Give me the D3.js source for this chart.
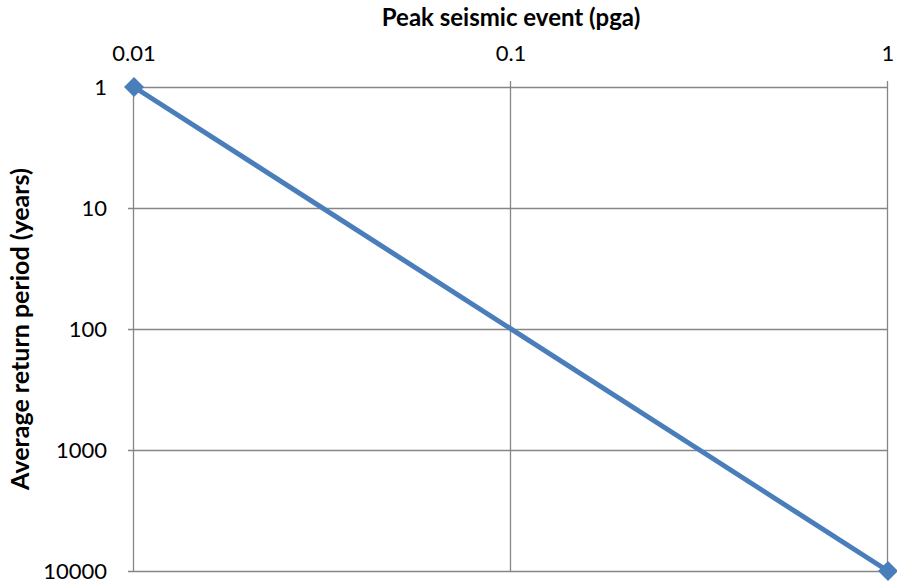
<!DOCTYPE html>
<html>
<head>
<meta charset="utf-8">
<script src="https://cdn.jsdelivr.net/npm/d3@7"></script>
<style>
  html, body { margin: 0; padding: 0; background: #fff; }
  svg { display: block; }
  text { font-family: Lato, "Open Sans", sans-serif; fill: #000; }
</style>
</head>
<body>
<svg id="chart" width="897" height="587"></svg>
<script>
// Peak ground acceleration vs. average return period
const pga = [0.01, 1];
const returnPeriod = [1, 10000];
const xTicks = [0.01, 0.1, 1];
const yTicks = [1, 10, 100, 1000, 10000];
const xTickLabels = ["0.01", "0.1", "1"];
const yTickLabels = ["1", "10", "100", "1000", "10000"];

const W = 897, H = 587;
const margin = { top: 87, right: 9, bottom: 16, left: 134 };
const svg = d3.select("#chart");

const x = d3.scaleLog().domain([0.01, 1]).range([margin.left, W - margin.right]);
const y = d3.scaleLog().domain([1, 10000]).range([margin.top, H - margin.bottom]);

const gridColor = "#868686";

// Horizontal gridlines (with short ticks poking out on the left)
svg.append("g").selectAll("line").data(yTicks).join("line")
  .attr("x1", margin.left - 6).attr("x2", W - margin.right)
  .attr("y1", d => Math.round(y(d)) + 0.5).attr("y2", d => Math.round(y(d)) + 0.5)
  .attr("stroke", gridColor).attr("stroke-width", 1.3);

// Vertical gridlines (with short ticks poking out on top)
svg.append("g").selectAll("line").data(xTicks).join("line")
  .attr("x1", d => Math.round(x(d)) - 0.5).attr("x2", d => Math.round(x(d)) - 0.5)
  .attr("y1", margin.top - 6).attr("y2", H - margin.bottom)
  .attr("stroke", gridColor).attr("stroke-width", 1.3);

// Top axis labels
svg.append("g").selectAll("text").data(xTicks).join("text")
  .attr("x", d => x(d)).attr("y", 61)
  .attr("text-anchor", "middle")
  .style("font-size", "22px")
  .text((d, i) => xTickLabels[i]);

// Left axis labels
svg.append("g").selectAll("text").data(yTicks).join("text")
  .attr("x", 107).attr("y", d => y(d))
  .attr("dy", "0.36em")
  .attr("text-anchor", "end")
  .style("font-size", "22px")
  .text((d, i) => yTickLabels[i]);

// Axis titles
svg.append("text")
  .attr("x", (margin.left + W - margin.right) / 2).attr("y", 26)
  .attr("text-anchor", "middle")
  .style("font-size", "24px").style("font-weight", "bold")
  .text("Peak seismic event (pga)");

svg.append("text")
  .attr("transform", `translate(29, ${(margin.top + H - margin.bottom) / 2}) rotate(-90)`)
  .attr("text-anchor", "middle")
  .style("font-size", "25px").style("font-weight", "bold")
  .text("Average return period (years)");

// Series line
const pts = pga.map((v, i) => [v, returnPeriod[i]]);
const seriesColor = "#4A7EBB";
svg.append("path")
  .datum(pts)
  .attr("fill", "none")
  .attr("stroke", seriesColor)
  .attr("stroke-width", 5)
  .attr("d", d3.line().x(d => x(d[0])).y(d => y(d[1])));

// Diamond markers
const diamond = d3.symbol().type(d3.symbolSquare).size(200);
svg.append("g").selectAll("path").data(pts).join("path")
  .attr("transform", d => `translate(${x(d[0])},${y(d[1])}) rotate(45)`)
  .attr("d", diamond)
  .attr("fill", seriesColor);
</script>
</body>
</html>
